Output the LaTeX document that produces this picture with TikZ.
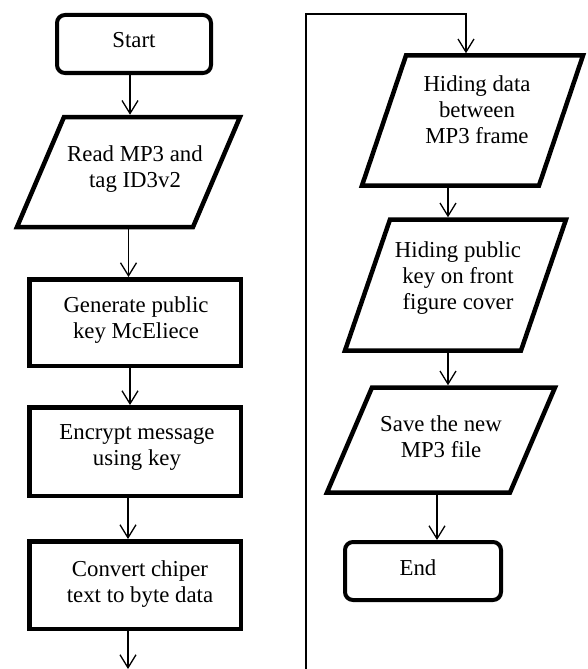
\documentclass[tikz,border=0pt]{standalone}
\usepackage{fontspec}
\setmainfont{Liberation Serif}
\usetikzlibrary{arrows.meta}
\newcommand\parabox[5]{%
  \node[pnode, minimum width=#3, minimum height=#4] (#1) at (#2) {};
  \draw[boxline] ([xshift=#5]#1.north west) -- (#1.north east) -- ([xshift=-#5]#1.south east) -- (#1.south west) -- cycle;
}
\begin{document}
\begin{tikzpicture}[x=1pt,y=-1pt,
  boxline/.style={line width=4.5pt},
  rbox/.style={draw, line width=4pt, rounded corners=8pt, minimum width=154pt, minimum height=58pt, inner sep=0pt},
  pbox/.style={draw, line width=4.5pt, minimum width=211.5pt, inner sep=0pt},
  pnode/.style={draw=none, inner sep=0pt, outer sep=0pt},
  txt/.style={font=\fontsize{22.8}{26}\selectfont, align=center, inner sep=0pt},
  arr/.style={line width=1.3pt, -{Straight Barb[length=13pt,width=16pt]}},
  pin/.style={shorten >=2.25pt}]
\useasboundingbox (0,0) rectangle (587,669);

% shapes
\node[rbox] (start) at (134,44) {};
\parabox{read}{128.5,172}{223pt}{110pt}{47pt}
\node[pbox, minimum height=86.5pt] (gen) at (135,322.5) {};
\node[pbox, minimum height=88.5pt] (enc) at (135,451.5) {};
\node[pbox, minimum height=87.5pt] (conv) at (135,585) {};
\parabox{hd}{472.5,120.5}{221pt}{130pt}{44pt}
\parabox{hp}{455.5,285}{221pt}{131pt}{45pt}
\parabox{save}{441,440}{228pt}{105pt}{45pt}
\node[rbox, minimum width=156pt] (stop) at (423,571) {};

% texts
\node[txt] (tstart) at (134,40) {Start};
\node[txt] (tread) at (135,169) {Read MP3 and\\tag ID3v2};
\node[txt] (tgen) at (136,320) {Generate public\\key McEliece};
\node[txt] (tenc) at (137,447) {Encrypt message\\using key};
\node[txt] (tconv) at (140,584) {Convert chiper\\text to byte data};
\node[txt] (thd) at (477,110) {Hiding data\\between\\MP3 frame};
\node[txt] (thp) at (458,278) {Hiding public\\key on front\\figure cover};
\node[txt] (tsave) at (441,437) {Save the new\\MP3 file};
\node[txt] (tstop) at (418,568) {End};

% connectors
\coordinate (bot) at (128,669);
\coordinate (loopb) at (306,669);
\coordinate (loopt) at (466,14);
\draw[arr, pin] ([xshift=-4pt]start.south) -- ([xshift=-4pt]start.south |- read.north);
\draw[arr] (read.south) -- (read.south |- gen.north);
\draw[arr] ([xshift=-5pt]gen.south) -- ([xshift=-5pt]gen.south |- enc.north);
\draw[arr] ([xshift=-7pt]enc.south) -- ([xshift=-7pt]enc.south |- conv.north);
\draw[arr] ([xshift=-7pt]conv.south) -- (bot);
\draw[arr, pin] (loopb) |- (loopt) -- (loopt |- hd.north);
\draw[arr, pin] ([xshift=-24.5pt]hd.south) -- ([xshift=-24.5pt]hd.south |- hp.north);
\draw[arr, pin] ([xshift=-7.5pt]hp.south) -- ([xshift=-7.5pt]hp.south |- save.north);
\draw[arr] ([xshift=-4pt]save.south) -- ([xshift=-4pt]save.south |- stop.north);
\end{tikzpicture}
\end{document}
